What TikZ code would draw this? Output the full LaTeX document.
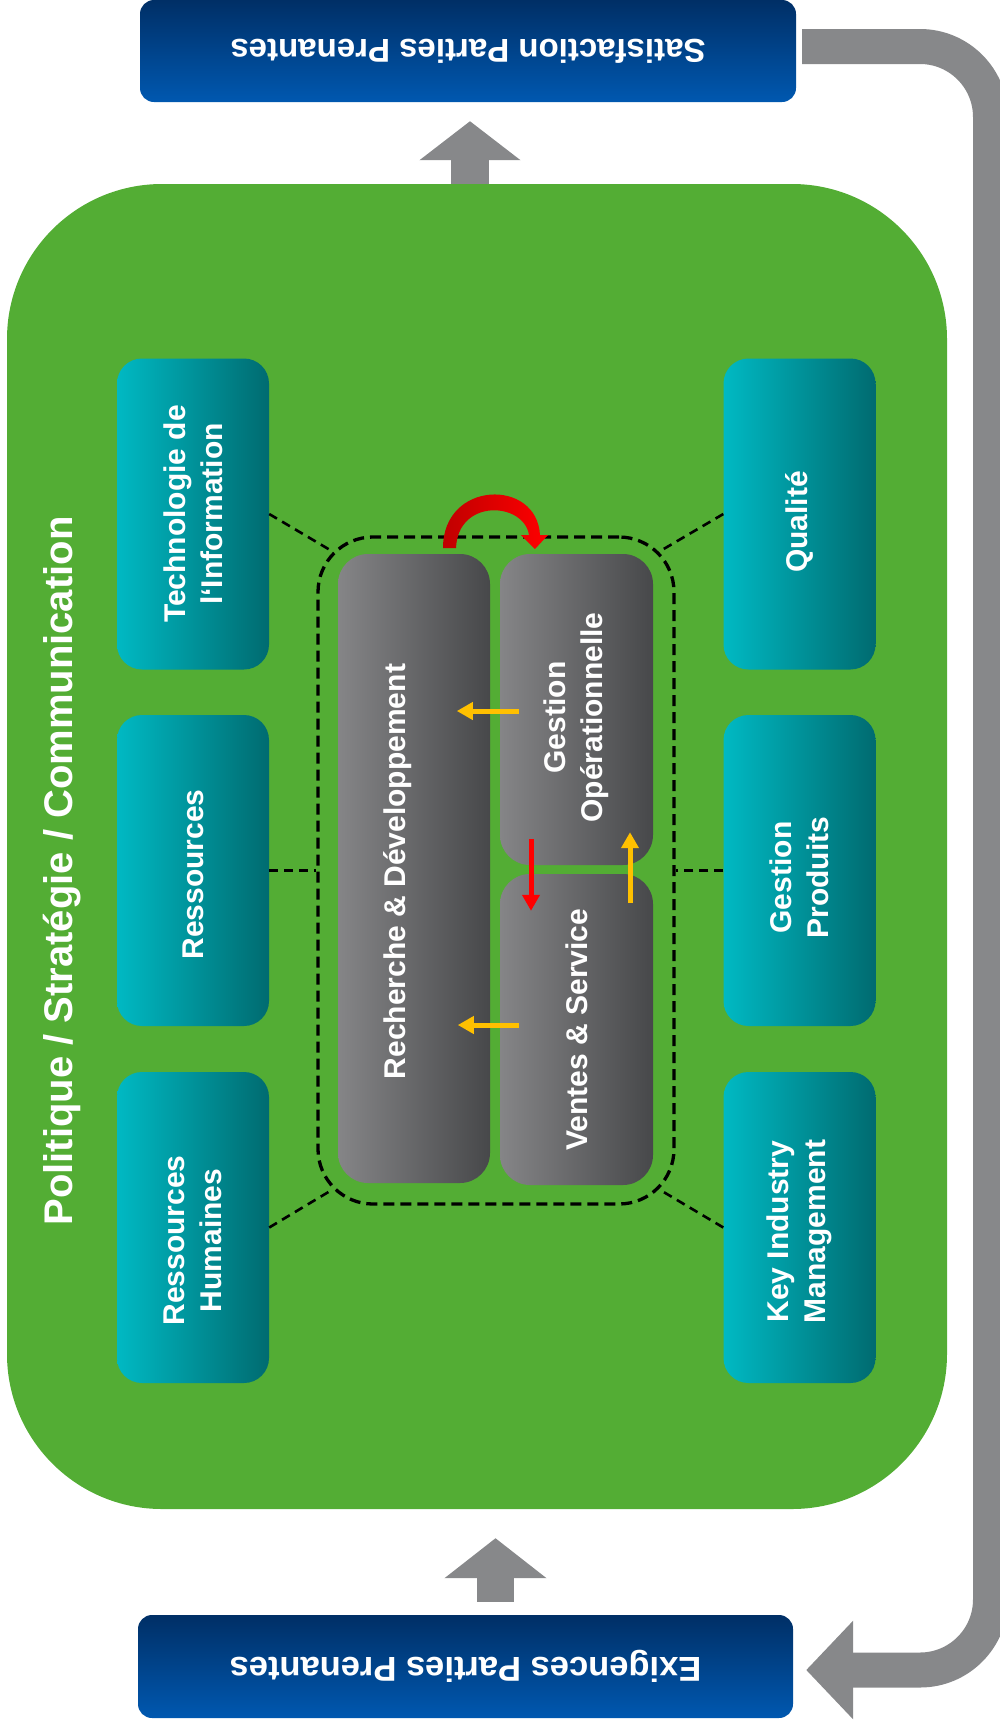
\documentclass[tikz,border=0pt]{standalone}
\usepackage{fontspec}
\setmainfont{Liberation Sans}
\usetikzlibrary{arrows.meta}
\definecolor{grn}{HTML}{53AD34}
\definecolor{cyanL}{HTML}{00B9C3}
\definecolor{cyanR}{HTML}{006B70}
\definecolor{grayL}{HTML}{858587}
\definecolor{grayR}{HTML}{47484A}
\definecolor{blueT}{HTML}{002F66}
\definecolor{blueB}{HTML}{0058B0}
\definecolor{loopgray}{HTML}{87888A}
\definecolor{yel}{HTML}{FFC000}
\definecolor{redD}{HTML}{C00000}
\definecolor{redB}{HTML}{FF0000}
\begin{document}
\begin{tikzpicture}[x=1pt,y=-1pt,
  cbox/.style={rounded corners=25pt, minimum width=152pt, minimum height=311pt, inner sep=0pt, left color=cyanL, right color=cyanR, draw=none},
  gbox/.style={rounded corners=30pt, minimum width=152pt, inner sep=0pt, left color=grayL, right color=grayR, draw=none},
  bluebox/.style={rounded corners=14pt, inner sep=0pt, top color=blueT, bottom color=blueB, draw=none},
  wtext/.style={text=white, font=\bfseries\fontsize{30}{37}\selectfont, align=center, inner sep=0pt},
  btext/.style={text=white, font=\bfseries\fontsize{33}{38}\selectfont, rotate=180, inner sep=0pt},
  dline/.style={draw=black, line width=2.6pt, dash pattern=on 9pt off 6pt},
  yarrow/.style={draw=yel, line width=5pt, -{Triangle[length=16pt,width=17pt]}},
  rarrow/.style={draw=redB, line width=5pt, -{Triangle[length=16pt,width=17pt]}},
  fatarrow/.style={draw=loopgray, line width=38pt, -{Triangle[length=39pt,width=99pt]}},
  looparrow/.style={draw=loopgray, line width=35pt, rounded corners=70.5pt, -{Triangle[length=47pt,width=96pt]}}
]
\useasboundingbox (0,0) rectangle (1000,1722);

% green background
\node[fill=grn, rounded corners=155pt, minimum width=940pt, minimum height=1325pt, inner sep=0pt] (green) at (477,846.5) {};
\node[rotate=90, text=white, font=\bfseries\fontsize{40}{48}\selectfont, inner sep=0pt] (title) at (62,871) {Politique / Stratégie / Communication};

% blue boxes
\node[bluebox, minimum width=656pt, minimum height=102pt] (sat) at (468,51) {};
\node[btext] at (sat) {Satisfaction Parties Prenantes};
\node[bluebox, minimum width=655pt, minimum height=103pt] (exi) at (465.5,1666.5) {};
\node[btext, font=\bfseries\fontsize{34.5}{40}\selectfont] at (exi) {Exigences Parties Prenantes};

% loop arrow
\path (sat.east) ++(6,-4.5) coordinate (ls);
\path (exi.east) ++(13,3.5) coordinate (le);
\draw[looparrow] (ls) -- (990.5,46.5) -- (990.5,1670) -- (le);

% fat up arrows
\path (green.north) ++(-7,0) coordinate (ua1s);
\path (sat.south) ++(2,19) coordinate (ua1e);
\draw[fatarrow] (ua1s) -- (ua1e);
\path (exi.north) ++(30,-13) coordinate (ua2s);
\path (green.south) ++(18.5,29) coordinate (ua2e);
\draw[fatarrow, line width=37pt, -{Triangle[length=40pt,width=100pt]}] (ua2s) -- (ua2e);

% core dashed box
\node[draw=black, line width=3.3pt, dash pattern=on 11pt off 6pt, rounded corners=55pt, minimum width=356pt, minimum height=667pt, inner sep=0pt] (core) at (496,870.5) {};

% outer boxes
\node[cbox] (tech) at (193,514) {};
\node[cbox] (res)  at (193,870.5) {};
\node[cbox] (rh)   at (193,1227.5) {};
\node[cbox] (qual) at (799.5,514) {};
\node[cbox] (gp)   at (799.5,870.5) {};
\node[cbox] (kim)  at (799.5,1227.5) {};
\node[wtext, rotate=90] at (tech) {Technologie de\\l‘Information};
\node[wtext, rotate=90] at ([yshift=-4pt]res.center) {Ressources};
\node[wtext, rotate=90] at ([yshift=-13pt]rh.center) {Ressources\\Humaines};
\node[wtext, rotate=90] at ([yshift=-8pt]qual.center) {Qualité};
\node[wtext, rotate=90] at ([yshift=-7pt]gp.center) {Gestion\\Produits};
\node[wtext, rotate=90] at ([yshift=-4pt]kim.center) {Key Industry\\Management};

% dashed connectors
\path (core.north west) ++(16,16) coordinate (cnw);
\path (core.south west) ++(16,-16) coordinate (csw);
\path (core.north east) ++(-16,16) coordinate (cne);
\path (core.south east) ++(-16,-16) coordinate (cse);
\draw[dline] (tech.east) -- (cnw);
\draw[dline] (res.east) -- (core.west);
\draw[dline] (rh.east) -- (csw);
\draw[dline] (qual.west) -- (cne);
\draw[dline] (gp.west) -- (core.east);
\draw[dline] (kim.west) -- (cse);

% inner boxes
\node[gbox, minimum height=629pt] (rd) at (414,868.5) {};
\node[gbox, minimum width=153pt, minimum height=311pt] (go) at (576.5,709.5) {};
\node[gbox, minimum width=153pt, minimum height=311pt] (vs) at (576.5,1029.5) {};
\node[wtext, rotate=90] at ([xshift=-16pt,yshift=-3pt]rd.center) {Recherche \& Développement};
\node[wtext, rotate=90] at ([yshift=-8pt]go.center) {Gestion\\Opérationnelle};
\node[wtext, rotate=90] at (vs) {Ventes \& Service};

% inner arrows
\path (go.west) ++(19,1.5) coordinate (y1s);
\path (go.west) ++(-43,1.5) coordinate (y1e);
\draw[yarrow] (y1s) -- (y1e);
\path (vs.west) ++(19,-4.5) coordinate (y2s);
\path (vs.west) ++(-42,-4.5) coordinate (y2e);
\draw[yarrow] (y2s) -- (y2e);
\path (go.south) ++(-45.5,-26) coordinate (r1s);
\path (vs.north) ++(-45.5,37) coordinate (r1e);
\draw[rarrow] (r1s) -- (r1e);
\path (vs.north) ++(53.5,29) coordinate (y3s);
\path (go.south) ++(53.5,-33) coordinate (y3e);
\draw[yarrow] (y3s) -- (y3e);

% curved red arrow from R&D to Gestion
\shade[left color=redD, right color=redB]
  (443,548) .. controls (443,480) and (537,478) .. (540,535)
  -- (548,535) -- (535,549) -- (521,535) -- (529,535)
  .. controls (524,502) and (458,498) .. (456,548) -- cycle;
\end{tikzpicture}
\end{document}
